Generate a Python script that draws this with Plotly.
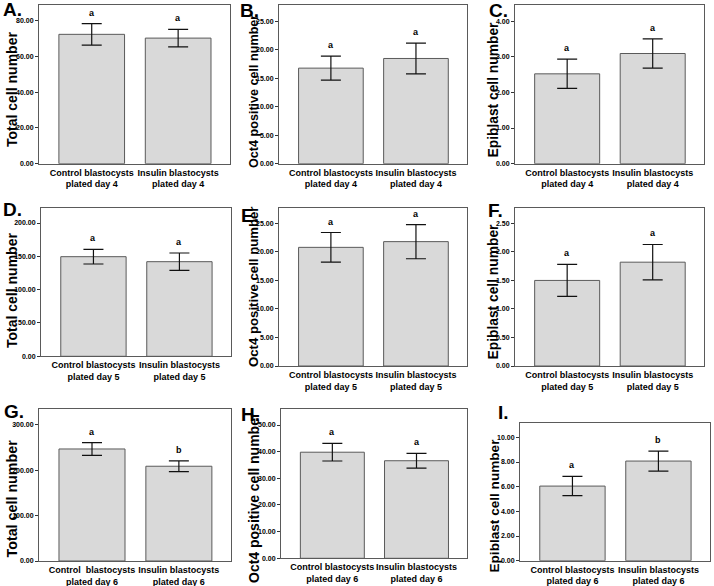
import plotly.graph_objects as go

# ---------------- data ----------------
panel_letters = ["A.", "B.", "C.", "D.", "E.", "F.", "G.", "H.", "I."]
y_titles = ["Total cell number", "Oct4 positive cell number", "Epiblast cell number",
            "Total cell number", "Oct4 positive cell number", "Epiblast cell number",
            "Total cell number", "Oct4 positive cell number", "Epiblast cell number"]
categories_day4 = ["Control blastocysts<br>plated day 4", "Insulin blastocysts<br>plated day 4"]
categories_day5 = ["Control blastocysts<br>plated day 5", "Insulin blastocysts<br>plated day 5"]
categories_day6a = ["Control  blastocysts<br>plated day 6", "Insulin blastocysts<br>plated day 6"]
categories_day6 = ["Control blastocysts<br>plated day 6", "Insulin blastocysts<br>plated day 6"]

means_A = [72.3, 70.2];   err_A = [6.0, 4.9]
means_B = [16.8, 18.5];   err_B = [2.1, 2.7]
means_C = [2.52, 3.09];   err_C = [0.41, 0.41]
means_D = [149.5, 142.0]; err_D = [11.0, 13.0]
means_E = [20.8, 21.8];   err_E = [2.6, 3.0]
means_F = [1.50, 1.82];   err_F = [0.28, 0.31]
means_G = [246.5, 208.5]; err_G = [14.0, 12.0]
means_H = [39.8, 36.6];   err_H = [3.3, 2.75]
means_I = [6.05, 8.08];   err_I = [0.78, 0.81]

letters_A = ["a", "a"]; letters_B = ["a", "a"]; letters_C = ["a", "a"]
letters_D = ["a", "a"]; letters_E = ["a", "a"]; letters_F = ["a", "a"]
letters_G = ["a", "b"]; letters_H = ["a", "a"]; letters_I = ["a", "b"]

y_max = [88.7, 27.9, 4.45, 223, 27.75, 2.775, 333.8, 55.9, 11.19]
y_dtick = [20, 5, 1, 50, 5, 0.5, 100, 10, 2]

panels = [
    (categories_day4, means_A, err_A, letters_A),
    (categories_day4, means_B, err_B, letters_B),
    (categories_day4, means_C, err_C, letters_C),
    (categories_day5, means_D, err_D, letters_D),
    (categories_day5, means_E, err_E, letters_E),
    (categories_day5, means_F, err_F, letters_F),
    (categories_day6a, means_G, err_G, letters_G),
    (categories_day6, means_H, err_H, letters_H),
    (categories_day6, means_I, err_I, letters_I),
]

# ---------------- layout geometry (pixels) ----------------
W, H = 714, 586
boxes = [  # left, right, top, bottom
    (39, 230, 5, 163.7), (279, 467, 5, 163.7), (515, 704, 5, 163.7),
    (41, 231, 207.7, 356.3), (279, 467, 207.7, 366), (515, 704, 207.7, 366),
    (39, 231, 409.3, 561), (281, 467, 409.3, 558.3), (520, 710, 422.7, 560.7),
]
label_pos = [(1, 9.5), (238, 10.5), (487, 10.5), (1, 209.5), (239, 215.5),
             (486, 210), (2, 411.5), (239, 414), (496, 412.5)]
ytitle_pos = [(11.5, 89.5), (253.5, 91.5), (493, 89.5), (11.5, 290.5), (253.5, 286.5),
              (493, 291.5), (11.5, 499), (254, 498), (493.5, 506)]
ytitle_size = [14, 12.6, 13.8, 14, 13.2, 13.8, 14.3, 14, 13.6]

FONT = "Liberation Sans, Arial, sans-serif"

fig = go.Figure()
layout = dict(
    width=W, height=H, margin=dict(l=0, r=0, t=0, b=0, autoexpand=False),
    paper_bgcolor="white", plot_bgcolor="white", showlegend=False,
    font=dict(family=FONT, color="black"),
    annotations=[],
)

for i, (cats, means, errs, lets) in enumerate(panels):
    n = i + 1
    xa = "x" if n == 1 else f"x{n}"
    ya = "y" if n == 1 else f"y{n}"
    l, r, t, b = boxes[i]
    fig.add_trace(go.Bar(
        x=[0, 1], y=means, width=0.76, xaxis=xa, yaxis=ya,
        marker=dict(color="#d9d9d9", line=dict(color="#5a5a5a", width=1)),
        error_y=dict(type="data", array=errs, visible=True, color="#111111",
                     thickness=1.2, width=10),
        hoverinfo="skip",
    ))
    layout[f"xaxis{'' if n == 1 else n}"] = dict(
        domain=[l / W, r / W], anchor=ya, range=[-0.61, 1.6],
        tickmode="array", tickvals=[0, 1], ticktext=cats, tickangle=0,
        automargin=False,
        showline=True, mirror=True, linecolor="#5a5a5a", linewidth=1,
        ticks="", showgrid=False, zeroline=False, fixedrange=True,
        tickfont=dict(size=9, family=FONT, weight="bold"),
    )
    layout[f"yaxis{'' if n == 1 else n}"] = dict(
        domain=[1 - b / H, 1 - t / H], anchor=xa, range=[0, y_max[i]],
        dtick=y_dtick[i], tick0=0, tickformat=".2f", automargin=False,
        showline=True, mirror=True, linecolor="#5a5a5a", linewidth=1,
        ticks="outside", ticklen=3, tickcolor="#333", showgrid=False, zeroline=False,
        tickfont=dict(size=7, family=FONT, weight="bold"),
    )
    for j in range(2):
        layout["annotations"].append(dict(
            x=j, y=means[j] + errs[j], xref=xa, yref=ya, text=lets[j],
            showarrow=False, yanchor="bottom", yshift=4,
            font=dict(size=9, family=FONT, weight="bold"),
        ))
    lx, ly = label_pos[i]
    layout["annotations"].append(dict(
        x=lx / W, y=1 - ly / H, xref="paper", yref="paper", text=panel_letters[i],
        showarrow=False, xanchor="left", yanchor="middle",
        font=dict(size=19, family=FONT, weight="bold"),
    ))
    tx, ty = ytitle_pos[i]
    layout["annotations"].append(dict(
        x=tx / W, y=1 - ty / H, xref="paper", yref="paper", text=y_titles[i],
        showarrow=False, xanchor="center", yanchor="middle", textangle=-90,
        font=dict(size=ytitle_size[i], family=FONT, weight="bold"),
    ))

fig.update_layout(**layout)
fig.write_html("out.html", config={"displayModeBar": False},
               post_script="document.body.style.margin='0px';")
